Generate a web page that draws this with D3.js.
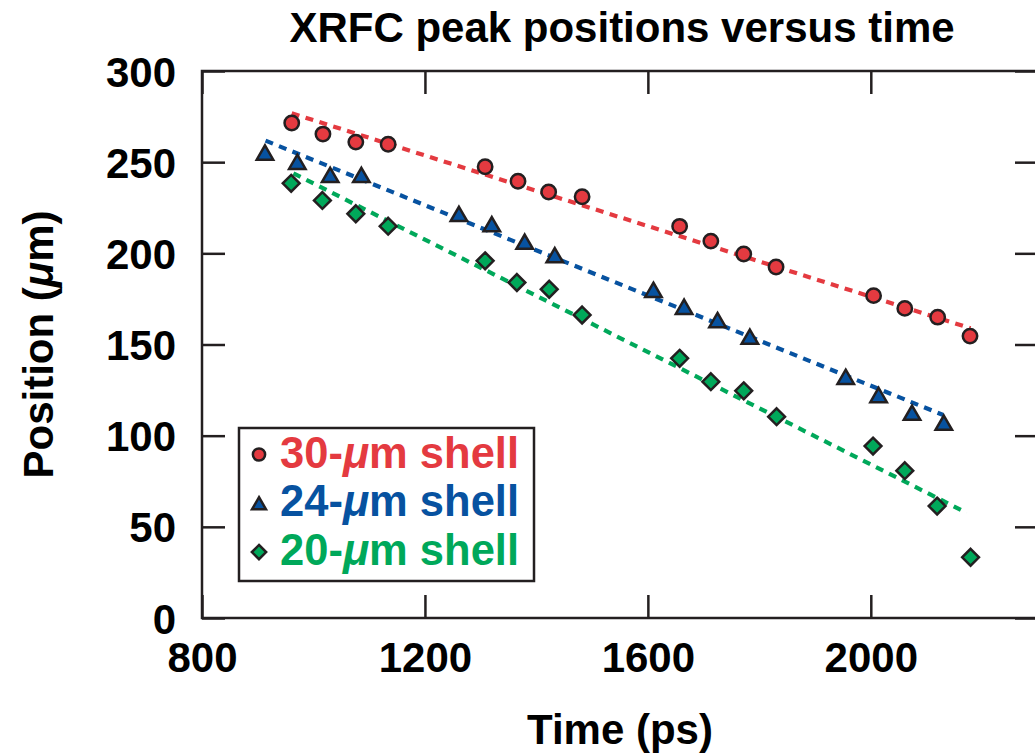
<!DOCTYPE html>
<html>
<head>
<meta charset="utf-8">
<script src="https://cdn.jsdelivr.net/npm/d3@7"></script>
<style>
  html, body { margin: 0; padding: 0; background: #fff; }
  svg { display: block; }
  text { font-family: "Liberation Sans", Arial, Helvetica, sans-serif; font-weight: bold; }
</style>
</head>
<body>
<svg id="chart" width="1035" height="756"></svg>
<script>
// ---- data ----
const xTicks = [800, 1200, 1600, 2000];
const yTicks = [0, 50, 100, 150, 200, 250, 300];
const seriesNames = ["30", "24", "20"];

const time30 = [961, 1017, 1076, 1134, 1308, 1367, 1422, 1482, 1657, 1713, 1772, 1830, 2005, 2061, 2120, 2178];
const pos30  = [271.5, 265.4, 261, 259.8, 247.5, 239.5, 233.6, 231, 214.8, 206.7, 199.6, 192.5, 176.8, 169.8, 165, 154.6];

const time24 = [913, 971, 1030, 1086, 1261, 1320, 1379, 1433, 1610, 1665, 1725, 1783, 1955, 2014, 2074, 2131];
const pos24  = [255.3, 250.2, 243, 243, 221.6, 216, 206.4, 199, 180, 170.7, 163.4, 154.3, 132.3, 122.3, 112.6, 107.1];

const time20 = [960, 1016, 1076, 1134, 1308, 1365, 1423, 1482, 1657, 1713, 1772, 1831, 2004, 2061, 2119, 2179];
const pos20  = [238.4, 229, 221.7, 214.9, 195.9, 184, 180.3, 166.2, 142.4, 129.6, 124.6, 110.4, 94.3, 80.8, 61.4, 33.3];

// linear fit lines (start/end in data units)
const fitTime30 = [961, 2179];  const fitPos30 = [276.8, 158.9];
const fitTime24 = [914, 2130];  const fitPos24 = [261.8, 111.3];
const fitTime20 = [964, 2172];  const fitPos20 = [243.9, 57.7];

// ---- layout ----
const colors = { "30": "#e43a40", "24": "#0752a0", "20": "#00a85a" };
const ink = "#231f20";
const fs = 42;

const svg = d3.select("#chart");
const pLeft = 202, pRight = 1038, pTop = 71, pBottom = 618;
const x = d3.scaleLinear().domain([800, 2300]).range([pLeft, pRight]);
const y = d3.scaleLinear().domain([0, 300]).range([pBottom, pTop]);

// frame
svg.append("rect").attr("x", pLeft).attr("y", pTop)
  .attr("width", pRight - pLeft).attr("height", pBottom - pTop)
  .attr("fill", "none").attr("stroke", ink).attr("stroke-width", 2.5);

// axes (inward ticks)
const tl = 23;
const fmt = d3.format("d");
const gB = svg.append("g").attr("transform", `translate(0,${pBottom})`)
  .call(d3.axisBottom(x).tickValues(xTicks).tickFormat(fmt).tickSizeInner(-tl).tickSizeOuter(0).tickPadding(24));
const gT = svg.append("g").attr("transform", `translate(0,${pTop})`)
  .call(d3.axisTop(x).tickValues(xTicks).tickSizeInner(-tl).tickSizeOuter(0).tickFormat(""));
const gL = svg.append("g").attr("transform", `translate(${pLeft},0)`)
  .call(d3.axisLeft(y).tickValues(yTicks).tickFormat(fmt).tickSizeInner(-tl).tickSizeOuter(0).tickPadding(26));
const gR = svg.append("g").attr("transform", `translate(${pRight},0)`)
  .call(d3.axisRight(y).tickValues(yTicks).tickSizeInner(-tl).tickSizeOuter(0).tickFormat(""));

[gB, gT, gL, gR].forEach(g => {
  g.select(".domain").remove();
  g.selectAll(".tick line").attr("stroke", ink).attr("stroke-width", 2.5);
  g.selectAll(".tick text").attr("fill", "#000").style("font-size", fs + "px")
    .style("font-family", '"Liberation Sans", Arial, sans-serif').style("font-weight", "bold");
});
gB.selectAll(".tick text").attr("dy", "0.71em");
gL.selectAll(".tick text").attr("dy", "0.36em");

// title and axis labels
svg.append("text").attr("x", 622).attr("y", 42).attr("text-anchor", "middle")
  .style("font-size", fs + "px").text("XRFC peak positions versus time");
svg.append("text").attr("x", 620).attr("y", 744).attr("text-anchor", "middle")
  .style("font-size", fs + "px").text("Time (ps)");
const yl = svg.append("text").attr("transform", `translate(53,${(pTop + pBottom) / 2}) rotate(-90)`)
  .attr("text-anchor", "middle").style("font-size", fs + "px");
yl.append("tspan").text("Position (");
yl.append("tspan").style("font-style", "italic").text("μ");
yl.append("tspan").text("m)");

// fit lines
const fits = [
  { k: "30", t: fitTime30, p: fitPos30 },
  { k: "24", t: fitTime24, p: fitPos24 },
  { k: "20", t: fitTime20, p: fitPos20 }
];
const line = d3.line().x(d => x(d[0])).y(d => y(d[1]));
fits.forEach(f => {
  svg.append("path").datum(f.t.map((t, i) => [t, f.p[i]]))
    .attr("d", line).attr("fill", "none")
    .attr("stroke", colors[f.k]).attr("stroke-width", 4.2)
    .attr("stroke-dasharray", "8,6.5");
});

// marker shapes
function triPath(s) {
  const h = s * Math.sqrt(3) / 2;
  return `M0,${-h / 2}L${s / 2},${h / 2}L${-s / 2},${h / 2}Z`;
}
function diaPath(r) {
  return `M0,${-r}L${r},0L0,${r}L${-r},0Z`;
}
function drawMarker(g, k, scale) {
  if (k === "30") {
    g.append("circle").attr("r", 7.2 * scale);
  } else if (k === "24") {
    g.append("path").attr("d", triPath(16.5 * scale));
  } else {
    g.append("path").attr("d", diaPath(8.4 * scale));
  }
  g.selectAll("circle,path").attr("fill", colors[k]).attr("stroke", ink)
    .attr("stroke-width", 2.5).attr("stroke-linejoin", "miter");
}

const series = [
  { k: "30", t: time30, p: pos30 },
  { k: "24", t: time24, p: pos24 },
  { k: "20", t: time20, p: pos20 }
];
series.forEach(s => {
  s.t.forEach((t, i) => {
    const g = svg.append("g").attr("transform", `translate(${x(t)},${y(s.p[i])})`);
    drawMarker(g, s.k, 1);
  });
});

// legend
svg.append("rect").attr("x", 239).attr("y", 428).attr("width", 295).attr("height", 153)
  .attr("fill", "#fff").attr("stroke", ink).attr("stroke-width", 2.5);
seriesNames.forEach((k, i) => {
  const by = 467.5 + i * 48.8;
  const g = svg.append("g").attr("transform", `translate(259,${by - 13})`);
  drawMarker(g, k, 0.85);
  const t = svg.append("text").attr("x", 280).attr("y", by)
    .attr("fill", colors[k]).style("font-size", "43.5px");
  t.append("tspan").text(k + "-");
  t.append("tspan").style("font-style", "italic").text("μ");
  t.append("tspan").text("m shell");
});
</script>
</body>
</html>
